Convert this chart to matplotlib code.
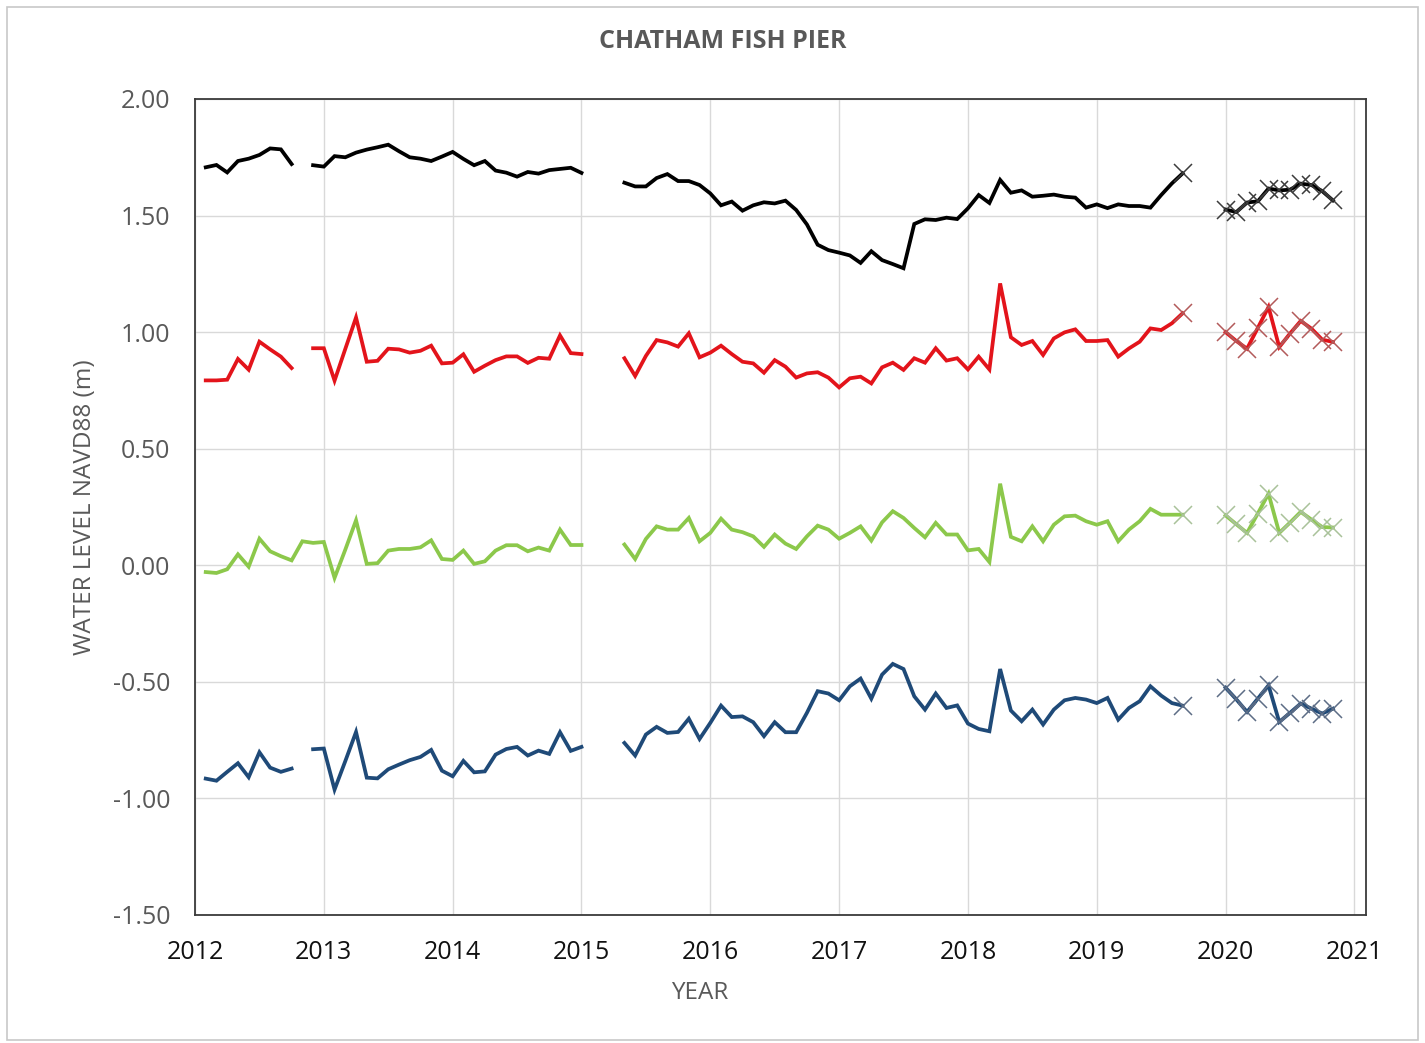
import numpy as np
import matplotlib
matplotlib.use("Agg")
import matplotlib.pyplot as plt
from matplotlib.patches import Rectangle

plt.rcParams['font.family'] = ['Open Sans', 'DejaVu Sans']

# monthly water levels (m, NAVD88), Jan 2012 .. Nov 2020, one row per year, None = no data
black_vals = [
    None, 1.707, 1.717, 1.685, 1.734, 1.744, 1.760, 1.788, 1.784, 1.721, None, 1.716,
    1.710, 1.755, 1.750, 1.770, 1.783, 1.793, 1.804, 1.776, 1.750, 1.744, 1.734, 1.753,
    1.773, 1.743, 1.716, 1.734, 1.693, 1.684, 1.667, 1.687, 1.680, 1.695, 1.700, 1.705,
    1.683, None, None, None, 1.641, 1.625, 1.625, 1.661, 1.678, 1.648, 1.648, 1.631,
    1.595, 1.544, 1.560, 1.521, 1.544, 1.557, 1.552, 1.564, 1.524, 1.462, 1.375, 1.352,
    1.341, 1.329, 1.297, 1.347, 1.309, 1.292, 1.274, 1.464, 1.484, 1.481, 1.491, 1.485,
    1.531, 1.588, 1.554, 1.653, 1.598, 1.608, 1.581, 1.585, 1.590, 1.581, 1.577, 1.534,
    1.548, 1.532, 1.548, 1.541, 1.541, 1.534, 1.588, 1.638, 1.681, None, None, None,
    1.526, 1.515, 1.556, 1.561, 1.616, 1.608, 1.611, 1.637, 1.631, 1.605, 1.565,
]
red_vals = [
    None, 0.793, 0.793, 0.796, 0.885, 0.839, 0.959, 0.926, 0.895, 0.846, None, 0.931,
    0.931, 0.792, 0.928, 1.063, 0.873, 0.877, 0.929, 0.926, 0.912, 0.920, 0.942, 0.866,
    0.869, 0.905, 0.830, 0.856, 0.880, 0.896, 0.896, 0.868, 0.890, 0.886, 0.986, 0.910,
    0.906, None, None, None, 0.888, 0.812, 0.898, 0.966, 0.956, 0.938, 0.995, 0.892,
    0.912, 0.942, 0.906, 0.873, 0.866, 0.826, 0.880, 0.852, 0.805, 0.823, 0.828, 0.805,
    0.763, 0.802, 0.809, 0.780, 0.849, 0.869, 0.838, 0.888, 0.869, 0.931, 0.878, 0.888,
    0.840, 0.895, 0.840, 1.209, 0.978, 0.945, 0.962, 0.902, 0.973, 0.999, 1.012, 0.962,
    0.962, 0.966, 0.895, 0.930, 0.959, 1.016, 1.009, 1.038, 1.081, None, None, None,
    1.000, 0.962, 0.929, 1.018, 1.108, 0.936, 0.994, 1.048, 1.015, 0.968, 0.958,
]
green_vals = [
    None, -0.029, -0.033, -0.017, 0.047, -0.006, 0.114, 0.060, 0.039, 0.021, 0.103, 0.096,
    0.100, -0.054, 0.067, 0.193, 0.006, 0.009, 0.063, 0.070, 0.070, 0.077, 0.107, 0.027,
    0.023, 0.063, 0.006, 0.017, 0.063, 0.086, 0.086, 0.060, 0.076, 0.063, 0.153, 0.087,
    0.087, None, None, None, 0.089, 0.027, 0.113, 0.167, 0.153, 0.153, 0.203, 0.103,
    0.139, 0.200, 0.153, 0.142, 0.124, 0.079, 0.132, 0.093, 0.070, 0.124, 0.170, 0.153,
    0.114, 0.139, 0.167, 0.106, 0.184, 0.232, 0.203, 0.160, 0.120, 0.182, 0.132, 0.132,
    0.064, 0.070, 0.014, 0.350, 0.122, 0.103, 0.167, 0.103, 0.174, 0.210, 0.213, 0.189,
    0.174, 0.189, 0.103, 0.153, 0.189, 0.242, 0.217, 0.217, 0.217, None, None, None,
    0.214, 0.176, 0.139, 0.222, 0.307, 0.139, 0.183, 0.229, 0.196, 0.164, 0.162,
]
blue_vals = [
    None, -0.915, -0.924, -0.886, -0.849, -0.909, -0.802, -0.868, -0.886, -0.872, None, -0.789,
    -0.786, -0.962, -0.840, -0.715, -0.911, -0.914, -0.875, -0.855, -0.836, -0.822, -0.792, -0.881,
    -0.905, -0.839, -0.888, -0.884, -0.812, -0.788, -0.779, -0.816, -0.795, -0.809, -0.716, -0.796,
    -0.779, None, None, None, -0.762, -0.816, -0.726, -0.693, -0.719, -0.715, -0.658, -0.745,
    -0.676, -0.602, -0.651, -0.648, -0.673, -0.733, -0.673, -0.716, -0.716, -0.633, -0.540, -0.550,
    -0.579, -0.519, -0.486, -0.572, -0.469, -0.423, -0.445, -0.562, -0.619, -0.550, -0.612, -0.601,
    -0.679, -0.702, -0.712, -0.445, -0.623, -0.669, -0.619, -0.683, -0.619, -0.579, -0.569, -0.576,
    -0.591, -0.569, -0.662, -0.612, -0.583, -0.519, -0.559, -0.591, -0.602, None, None, None,
    -0.525, -0.575, -0.629, -0.572, -0.515, -0.672, -0.633, -0.593, -0.615, -0.636, -0.615,
]

years = list(range(2012, 2022))
y_ticks = [2.0, 1.5, 1.0, 0.5, 0.0, -0.5, -1.0, -1.5]

# months flagged with an x marker (Sep 2019 and all of 2020)
marked = [92] + list(range(96, 107))

series = [
    (black_vals, '#000000', '#3c3c3c'),
    (red_vals, '#e3141b', '#b35a5a'),
    (green_vals, '#8cc84b', '#a9c29a'),
    (blue_vals, '#1f4a78', '#5d6d86'),
]

fig = plt.figure(figsize=(14.25, 10.43), dpi=100)
ax = fig.add_axes([195/1425, 1 - 915/1043, (1366-195)/1425, (915-99)/1043])

for vals, col, mcol in series:
    v = np.array([np.nan if a is None else a for a in vals], dtype=float)
    x = 2012 + np.arange(len(v)) / 12.0
    ax.plot(x, v, color=col, lw=2.7, solid_joinstyle='miter', zorder=3,
            marker='x', markevery=marked, markersize=13,
            markeredgewidth=1.1, markeredgecolor=mcol)

ax.set_xlim(2012, 2021.09)
ax.set_ylim(-1.5, 2.0)
ax.set_xticks(years)
ax.set_xticklabels([str(y) for y in years])
ax.set_yticks(y_ticks)
ax.set_yticklabels([f'{t:.2f}' for t in y_ticks])

ax.grid(True, color='#d9d9d9', lw=1.0, zorder=0)
ax.tick_params(axis='both', length=0, labelsize=18, pad=18)
ax.tick_params(axis='y', labelcolor='#595959')
ax.tick_params(axis='x', labelcolor='#111111')
for s in ax.spines.values():
    s.set_color('#3a3a3a')
    s.set_linewidth(1.3)

fig.text(723/1425, 1 - 42/1043, 'CHATHAM FISH PIER', ha='center', va='center',
         fontsize=18, fontweight='bold', color='#595959')
fig.text(85/1425, 1 - 507/1043, 'WATER LEVEL NAVD88 (m)', ha='center', va='center',
         rotation=90, fontsize=17.5, color='#595959')
fig.text(700/1425, 1 - 993/1043, 'YEAR', ha='center', va='center',
         fontsize=17.5, color='#595959')

# outer chart frame
fig.patches.append(Rectangle((7/1425, 3/1043), (1418-7)/1425, (1036-3)/1043,
                             transform=fig.transFigure, fill=False,
                             edgecolor='#c8c8c8', lw=1.2))

fig.savefig('out.png', dpi=100)
